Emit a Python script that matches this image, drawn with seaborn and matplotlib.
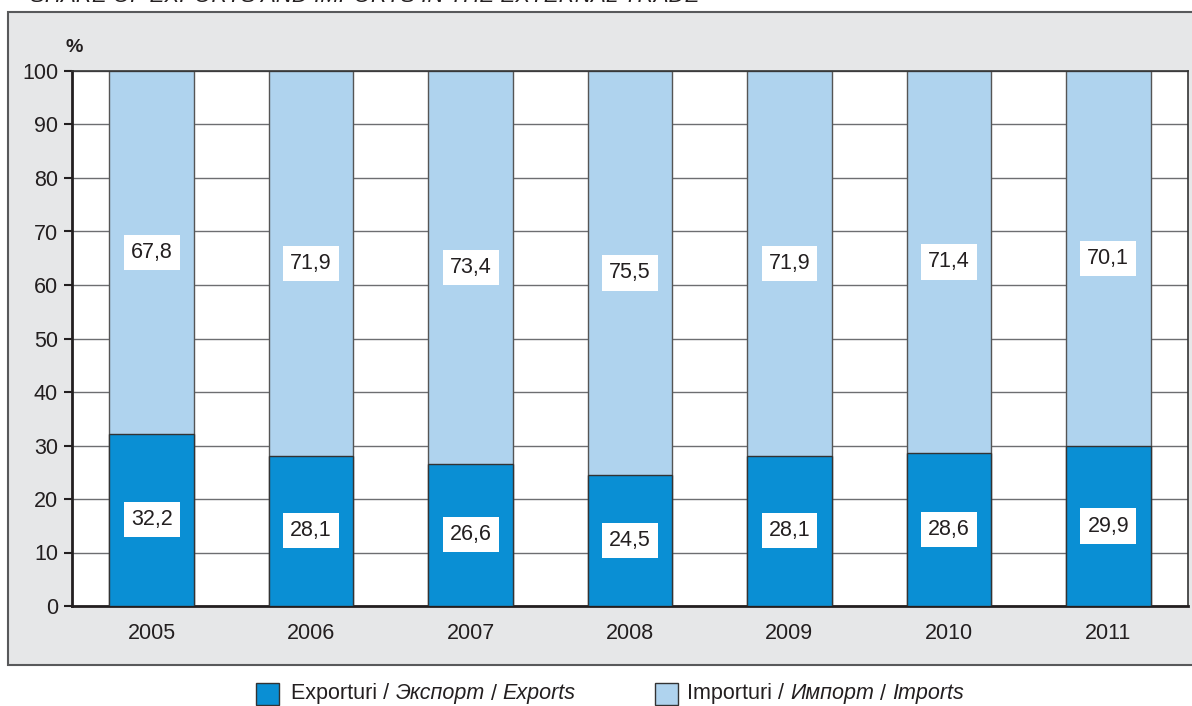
import pandas as pd
import matplotlib
matplotlib.use("Agg")
import matplotlib.pyplot as plt
import seaborn as sns
from matplotlib.patches import Rectangle
from matplotlib.offsetbox import HPacker, TextArea, DrawingArea, AnchoredOffsetbox

years = ["2005", "2006", "2007", "2008", "2009", "2010", "2011"]
exports = [32.2, 28.1, 26.6, 24.5, 28.1, 28.6, 29.9]
imports = [67.8, 71.9, 73.4, 75.5, 71.9, 71.4, 70.1]

exp_color = "#0a8fd4"
imp_color = "#afd3ee"
panel_color = "#e6e7e8"
ink = "#231f20"
fs = 15.5

df = pd.DataFrame({"year": years, "exports": exports, "imports": imports})
df["total"] = df["exports"] + df["imports"]

sns.set_style("white")
plt.rcParams["font.family"] = ["Liberation Sans", "DejaVu Sans"]

fig = plt.figure(figsize=(11.92, 7.06), dpi=100)

# grey panel behind the chart
fig.patches.append(Rectangle((8 / 1192, 1 - 665 / 706), 1.0, 653 / 706,
                             transform=fig.transFigure, facecolor=panel_color,
                             edgecolor="#58595b", linewidth=1.5, zorder=-5))

ax = fig.add_axes([72 / 1192, 1 - 606 / 706, 1116 / 1192, 535 / 706])
ax.set_facecolor("white")

sns.barplot(data=df, x="year", y="total", color=imp_color, width=0.53,
            edgecolor="#555555", linewidth=1, saturation=1, ax=ax, zorder=2)
sns.barplot(data=df, x="year", y="exports", color=exp_color, width=0.53,
            edgecolor="#333333", linewidth=1, saturation=1, ax=ax, zorder=3)

for i, (e, m) in enumerate(zip(exports, imports)):
    for yv, val in [(e / 2, e), (e + m / 2, m)]:
        ax.text(i, yv, f"{val:.1f}".replace(".", ","), ha="center", va="center",
                fontsize=fs, color=ink, zorder=5,
                bbox=dict(boxstyle="square,pad=0.33", facecolor="white", edgecolor="none"))

ax.set_ylim(0, 100)
ax.set_xlim(-0.5, len(years) - 0.5)
ax.set_yticks(range(0, 101, 10))
ax.yaxis.grid(True, color="#6d6e71", linewidth=1)
ax.set_axisbelow(True)
ax.set_xlabel("")
ax.set_ylabel("")
ax.set_xticks(range(len(years)))
ax.set_xticklabels(years)
ax.set_xticks([i - 0.5 for i in range(len(years) + 1)], minor=True)
ax.tick_params(axis="x", which="major", length=0, pad=12, labelsize=fs, labelcolor=ink)
ax.tick_params(axis="x", which="minor", length=6, width=1.5, color=ink, direction="out")
ax.tick_params(axis="y", length=6, width=1.5, color=ink, direction="out",
               labelsize=fs, labelcolor=ink, left=True, pad=4)
for side in ["top", "right"]:
    ax.spines[side].set_color("#333333")
    ax.spines[side].set_linewidth(1.2)
for side in ["left", "bottom"]:
    ax.spines[side].set_color(ink)
    ax.spines[side].set_linewidth(2)

fig.text(65 / 1192, 1 - 47 / 706, "%", fontsize=14, fontweight="bold",
         color=ink, ha="left", va="center")

# title, cut at the top edge as in the scan
fig.text(30 / 1192, 1 + 3 / 706, "SHARE OF EXPORTS AND IMPORTS IN THE EXTERNAL TRADE",
         fontsize=16, style="italic", color=ink, ha="left", va="center")


def swatch(color):
    da = DrawingArea(16.5, 16.5, 0, 0)
    da.add_artist(Rectangle((0, 0), 16.5, 16.5, facecolor=color, edgecolor="#333333", linewidth=1))
    return da


def gap(w):
    return DrawingArea(w, 1, 0, 0)


def txt(s, italic=False):
    return TextArea(s, textprops=dict(fontsize=fs, color=ink,
                                      style="italic" if italic else "normal"))


items = [swatch(exp_color), gap(9), txt("Exporturi / "), txt("Экспорт", True), txt(" / "), txt("Exports", True),
         gap(57),
         swatch(imp_color), gap(7), txt("Importuri / "), txt("Импорт", True), txt(" / "), txt("Imports", True)]
box = HPacker(children=items, align="center", pad=0, sep=0)
anch = AnchoredOffsetbox(loc="center", child=box, frameon=False,
                         bbox_to_anchor=(610 / 1192, 1 - 694 / 706),
                         bbox_transform=fig.transFigure, borderpad=0)
fig.add_artist(anch)

fig.savefig("out.png", dpi=100)
